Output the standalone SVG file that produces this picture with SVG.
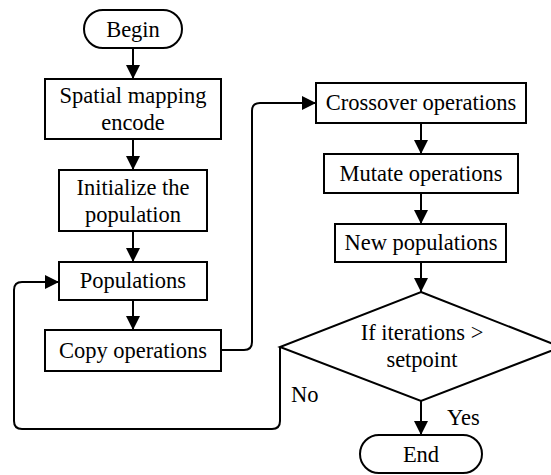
<svg xmlns="http://www.w3.org/2000/svg" width="551" height="475" viewBox="0 0 551 475">
<style>
.b{fill:#fff;stroke:#000;stroke-width:2}
.t{font-family:"Liberation Serif","DejaVu Serif","Times New Roman",Times,serif;font-size:22.5px;fill:#000;text-anchor:middle}
.l{font-family:"Liberation Serif","DejaVu Serif","Times New Roman",Times,serif;font-size:22.5px;fill:#000}
.c{fill:none;stroke:#000;stroke-width:2}
</style>
<defs>
<marker id="a" markerUnits="userSpaceOnUse" markerWidth="14" markerHeight="14" refX="14" refY="7" orient="auto">
<path d="M0,0 L14,7 L0,14 Z" fill="#000"/>
</marker>
</defs>
<rect width="551" height="475" fill="#fff"/>
<g id="connectors">
<path class="c" d="M133,48 V79" marker-end="url(#a)"/>
<path class="c" d="M133,139 V170" marker-end="url(#a)"/>
<path class="c" d="M133,231 V262" marker-end="url(#a)"/>
<path class="c" d="M133,300 V330" marker-end="url(#a)"/>
<path class="c" d="M221,350 H244 Q252,350 252,342 V111 Q252,103 260,103 H316" marker-end="url(#a)"/>
<path class="c" d="M421,123 V154" marker-end="url(#a)"/>
<path class="c" d="M421,193 V224" marker-end="url(#a)"/>
<path class="c" d="M421,262 V292" marker-end="url(#a)"/>
<path class="c" d="M421,401 V435" marker-end="url(#a)"/>
<path class="c" d="M280,347 V421 Q280,429 272,429 H22 Q14,429 14,421 V290 Q14,282 22,282 H59" marker-end="url(#a)"/>
<text class="l" x="291" y="402" font-family="Liberation Serif, serif">No</text>
<text class="l" x="447" y="425" font-family="Liberation Serif, serif">Yes</text>
</g>
<g id="begin">
<rect class="b" x="84" y="10" width="98" height="38" rx="19"/>
<text class="t" x="133" y="37">Begin</text>
</g>
<g id="spatial">
<rect class="b" x="45" y="79" width="176" height="60"/>
<text class="t" x="133" y="103">Spatial mapping</text>
<text class="t" x="133" y="130">encode</text>
</g>
<g id="init">
<rect class="b" x="59" y="170" width="148" height="61"/>
<text class="t" x="133" y="195">Initialize the</text>
<text class="t" x="133" y="222">population</text>
</g>
<g id="populations">
<rect class="b" x="59" y="262" width="148" height="38"/>
<text class="t" x="133" y="288">Populations</text>
</g>
<g id="copy">
<rect class="b" x="45" y="330" width="176" height="41"/>
<text class="t" x="133" y="358">Copy operations</text>
</g>
<g id="crossover">
<rect class="b" x="316" y="83" width="210" height="40"/>
<text class="t" x="421" y="110">Crossover operations</text>
</g>
<g id="mutate">
<rect class="b" x="324" y="154" width="194" height="39"/>
<text class="t" x="421" y="181">Mutate operations</text>
</g>
<g id="newpop">
<rect class="b" x="335" y="224" width="171" height="38"/>
<text class="t" x="421" y="250">New populations</text>
</g>
<g id="decision">
<path class="b" d="M421,292 L561,347 L421,401 L280,347 Z"/>
<text class="t" x="422" y="340">If iterations &gt;</text>
<text class="t" x="422" y="367">setpoint</text>
</g>
<g id="end">
<rect class="b" x="360" y="435" width="122" height="38" rx="19"/>
<text class="t" x="421" y="462">End</text>
</g>
</svg>
